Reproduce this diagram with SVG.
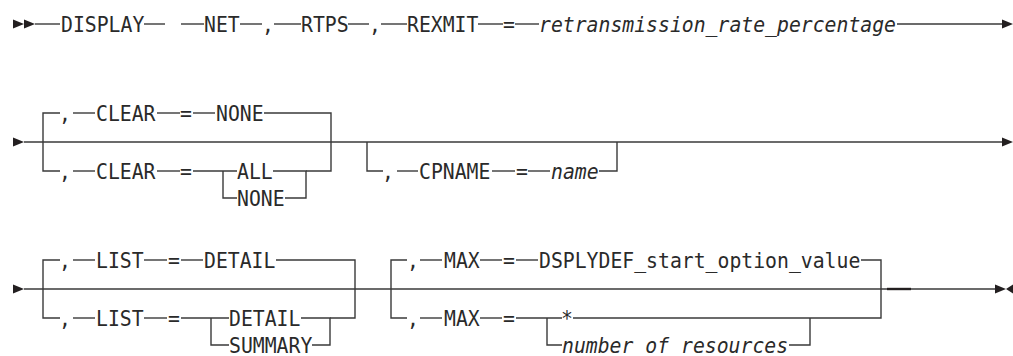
<svg xmlns="http://www.w3.org/2000/svg" width="1013" height="356" viewBox="0 0 1013 356">
<style>
  text { font-family: "DejaVu Sans Mono", "Liberation Mono", monospace; font-size: 21.5px; fill: #2a2a2a; }
  .i { font-style: italic; }
  .c line, .c polyline { stroke: #3a3a3a; stroke-width: 1.4; fill: none; }
  .a { fill: #231f20; }
</style>
<defs>
  <path id="tri" d="M0,-4.5 L11,0 L0,4.5 Z"/>
  <path id="tril" d="M0,0 L7,-4.5 L7,4.5 Z"/>
</defs>
<rect width="1013" height="356" fill="#ffffff"/>

<g class="c" id="connectors">
  <!-- row 1 -->
  <line x1="35" y1="24" x2="60" y2="24"/>
  <line x1="144" y1="24" x2="165" y2="24"/>
  <line x1="181" y1="24" x2="204" y2="24"/>
  <line x1="240" y1="24" x2="262" y2="24"/>
  <line x1="274" y1="24" x2="301" y2="24"/>
  <line x1="348" y1="24" x2="369" y2="24"/>
  <line x1="381" y1="24" x2="407" y2="24"/>
  <line x1="478" y1="24" x2="503" y2="24"/>
  <line x1="515" y1="24" x2="539" y2="24"/>
  <line x1="897" y1="24" x2="1003" y2="24"/>
  <!-- row 2 main -->
  <line x1="24" y1="142" x2="1003" y2="142"/>
  <!-- CLEAR group -->
  <polyline points="60,113 43,113 43,171 60,171"/>
  <line x1="73" y1="113" x2="95" y2="113"/>
  <line x1="157" y1="113" x2="180" y2="113"/>
  <line x1="193" y1="113" x2="215" y2="113"/>
  <polyline points="264,113 331,113 331,171 306,171"/>
  <line x1="73" y1="171" x2="95" y2="171"/>
  <line x1="157" y1="171" x2="180" y2="171"/>
  <polyline points="193,171 237,171"/>
  <polyline points="237,198 223,198 223,171"/>
  <polyline points="273,171 306,171 306,198 285,198"/>
  <!-- CPNAME group -->
  <polyline points="367,142 367,171 383,171"/>
  <line x1="397" y1="171" x2="418" y2="171"/>
  <line x1="492" y1="171" x2="515" y2="171"/>
  <line x1="528" y1="171" x2="550" y2="171"/>
  <polyline points="599,171 617,171 617,142"/>
  <!-- row 3 main -->
  <line x1="24" y1="289" x2="996" y2="289"/>
  <line x1="887" y1="289" x2="911" y2="289" style="stroke-width:2.4;stroke:#231f20"/>
  <!-- LIST group -->
  <polyline points="60,260 43,260 43,318 60,318"/>
  <line x1="73" y1="260" x2="95" y2="260"/>
  <line x1="144" y1="260" x2="167" y2="260"/>
  <line x1="181" y1="260" x2="203" y2="260"/>
  <polyline points="276,260 355,260 355,318 330,318"/>
  <line x1="73" y1="318" x2="95" y2="318"/>
  <line x1="144" y1="318" x2="167" y2="318"/>
  <line x1="181" y1="318" x2="229" y2="318"/>
  <polyline points="229,345 211,345 211,318"/>
  <polyline points="301,318 330,318 330,345 312,345"/>
  <!-- MAX group -->
  <polyline points="407,260 391,260 391,318 407,318"/>
  <line x1="420" y1="260" x2="442" y2="260"/>
  <line x1="480" y1="260" x2="502" y2="260"/>
  <line x1="516" y1="260" x2="538" y2="260"/>
  <polyline points="861,260 881,260 881,318 810,318"/>
  <line x1="420" y1="318" x2="442" y2="318"/>
  <line x1="480" y1="318" x2="502" y2="318"/>
  <line x1="516" y1="318" x2="562" y2="318"/>
  <line x1="573" y1="318" x2="810" y2="318"/>
  <polyline points="562,345 547,345 547,318"/>
  <polyline points="789,345 810,345 810,318"/>
</g>

<g id="arrows" class="a">
  <use href="#tri" x="13" y="24"/>
  <use href="#tri" x="24" y="24"/>
  <use href="#tri" x="1002" y="24"/>
  <use href="#tri" x="13" y="142"/>
  <use href="#tri" x="1002" y="142"/>
  <use href="#tri" x="13" y="289"/>
  <use href="#tri" x="995" y="289"/>
  <use href="#tril" x="1006" y="289"/>
</g>

<g id="display"><text x="61" y="32" textLength="83.3" lengthAdjust="spacingAndGlyphs">DISPLAY</text></g>
<g id="net"><text x="204" y="32" textLength="35.7" lengthAdjust="spacingAndGlyphs">NET</text></g>
<g id="rtps">
  <text x="262" y="32" textLength="11.9" lengthAdjust="spacingAndGlyphs">,</text>
  <text x="301" y="32" textLength="47.6" lengthAdjust="spacingAndGlyphs">RTPS</text>
</g>
<g id="rexmit">
  <text x="369" y="32" textLength="11.9" lengthAdjust="spacingAndGlyphs">,</text>
  <text x="407" y="32" textLength="71.4" lengthAdjust="spacingAndGlyphs">REXMIT</text>
  <text x="503" y="32" textLength="11.9" lengthAdjust="spacingAndGlyphs">=</text>
  <text class="i" x="539" y="32" textLength="357" lengthAdjust="spacingAndGlyphs">retransmission_rate_percentage</text>
</g>

<g id="clear-default">
  <text x="59" y="121" textLength="11.9" lengthAdjust="spacingAndGlyphs">,</text>
  <text x="96" y="121" textLength="59.5" lengthAdjust="spacingAndGlyphs">CLEAR</text>
  <text x="180" y="121" textLength="11.9" lengthAdjust="spacingAndGlyphs">=</text>
  <text x="216" y="121" textLength="47.6" lengthAdjust="spacingAndGlyphs">NONE</text>
</g>
<g id="clear-choice">
  <text x="59" y="179" textLength="11.9" lengthAdjust="spacingAndGlyphs">,</text>
  <text x="96" y="179" textLength="59.5" lengthAdjust="spacingAndGlyphs">CLEAR</text>
  <text x="180" y="179" textLength="11.9" lengthAdjust="spacingAndGlyphs">=</text>
  <text x="237" y="179" textLength="35.7" lengthAdjust="spacingAndGlyphs">ALL</text>
  <text x="237" y="206" textLength="47.6" lengthAdjust="spacingAndGlyphs">NONE</text>
</g>
<g id="cpname">
  <text x="382" y="179" textLength="11.9" lengthAdjust="spacingAndGlyphs">,</text>
  <text x="419" y="179" textLength="71.4" lengthAdjust="spacingAndGlyphs">CPNAME</text>
  <text x="516" y="179" textLength="11.9" lengthAdjust="spacingAndGlyphs">=</text>
  <text class="i" x="551" y="179" textLength="47.6" lengthAdjust="spacingAndGlyphs">name</text>
</g>

<g id="list-default">
  <text x="59" y="268" textLength="11.9" lengthAdjust="spacingAndGlyphs">,</text>
  <text x="96" y="268" textLength="47.6" lengthAdjust="spacingAndGlyphs">LIST</text>
  <text x="168" y="268" textLength="11.9" lengthAdjust="spacingAndGlyphs">=</text>
  <text x="204" y="268" textLength="71.4" lengthAdjust="spacingAndGlyphs">DETAIL</text>
</g>
<g id="list-choice">
  <text x="59" y="326" textLength="11.9" lengthAdjust="spacingAndGlyphs">,</text>
  <text x="96" y="326" textLength="47.6" lengthAdjust="spacingAndGlyphs">LIST</text>
  <text x="168" y="326" textLength="11.9" lengthAdjust="spacingAndGlyphs">=</text>
  <text x="229" y="326" textLength="71.4" lengthAdjust="spacingAndGlyphs">DETAIL</text>
  <text x="229" y="353" textLength="83.3" lengthAdjust="spacingAndGlyphs">SUMMARY</text>
</g>
<g id="max-default">
  <text x="407" y="268" textLength="11.9" lengthAdjust="spacingAndGlyphs">,</text>
  <text x="444" y="268" textLength="35.7" lengthAdjust="spacingAndGlyphs">MAX</text>
  <text x="503" y="268" textLength="11.9" lengthAdjust="spacingAndGlyphs">=</text>
  <text x="539" y="268" textLength="321.3" lengthAdjust="spacingAndGlyphs">DSPLYDEF_start_option_value</text>
</g>
<g id="max-choice">
  <text x="407" y="326" textLength="11.9" lengthAdjust="spacingAndGlyphs">,</text>
  <text x="444" y="326" textLength="35.7" lengthAdjust="spacingAndGlyphs">MAX</text>
  <text x="503" y="326" textLength="11.9" lengthAdjust="spacingAndGlyphs">=</text>
  <text x="561" y="326" textLength="11.9" lengthAdjust="spacingAndGlyphs">*</text>
  <text class="i" x="562" y="353" textLength="226.1" lengthAdjust="spacingAndGlyphs">number of resources</text>
</g>
</svg>
